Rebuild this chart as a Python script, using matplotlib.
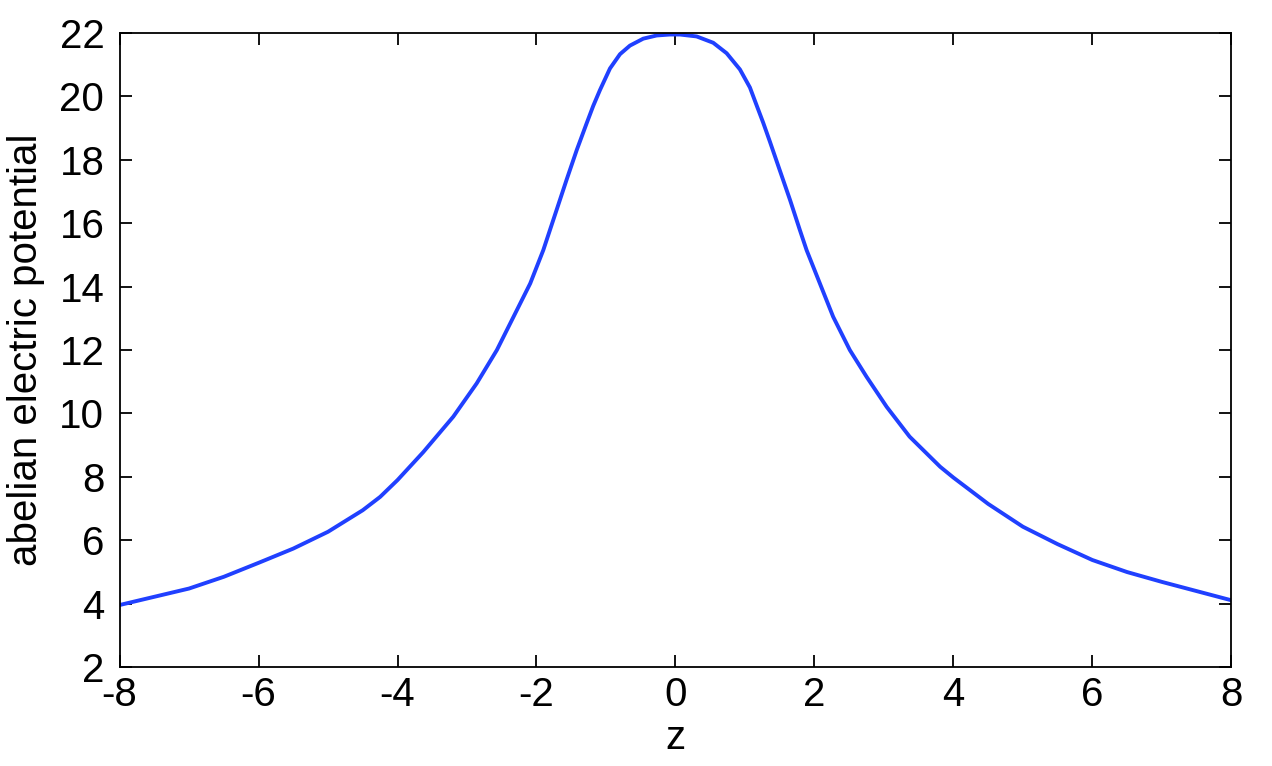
import numpy as np
import matplotlib
matplotlib.use("Agg")
import matplotlib.pyplot as plt

plt.rcParams['font.family'] = ['Liberation Sans', 'DejaVu Sans']
plt.rcParams['axes.unicode_minus'] = False

# values
z = [-8.0, -7.5, -7.0, -6.5, -6.0, -5.5, -5.0, -4.5, -4.25, -4.0, -3.63,
     -3.197, -2.86, -2.57, -2.33, -2.09, -1.902, -1.71, -1.565, -1.42,
     -1.278, -1.183, -1.086, -0.942, -0.798, -0.655, -0.463, -0.27, -0.08,
     0.065, 0.305, 0.544, 0.737, 0.928, 1.072, 1.168, 1.263, 1.36, 1.50,
     1.65, 1.79, 1.888, 2.079, 2.27, 2.51, 2.75, 3.04, 3.37, 3.81, 4.0,
     4.38, 4.5, 5.0, 5.5, 6.0, 6.5, 7.0, 7.5, 8.0]
phi = [3.96, 4.22, 4.48, 4.85, 5.29, 5.74, 6.27, 6.95, 7.37, 7.90, 8.78,
       9.90, 10.95, 12.00, 13.05, 14.10, 15.15, 16.42, 17.38, 18.31,
       19.15, 19.70, 20.20, 20.88, 21.33, 21.60, 21.82, 21.92, 21.95,
       21.95, 21.89, 21.69, 21.36, 20.85, 20.28, 19.72, 19.17, 18.57, 17.68,
       16.73, 15.79, 15.15, 14.10, 13.05, 12.00, 11.16, 10.21, 9.27, 8.32, 7.98,
       7.35, 7.15, 6.43, 5.88, 5.38, 5.00, 4.69, 4.40, 4.11]

xticks = np.arange(-8, 9, 2)
yticks = np.arange(2, 23, 2)

fig = plt.figure(figsize=(12.72, 7.66), dpi=100)
ax = fig.add_axes([0.094, 0.129, 0.874, 0.828])
ax.plot(z, phi, color='#2040ff', lw=2.8, solid_joinstyle='round',
        solid_capstyle='butt')

ax.set_xlim(-8, 8)
ax.set_ylim(2, 22)
ax.set_xticks(xticks)
ax.set_yticks(yticks)
ax.tick_params(direction='in', length=8.5, width=1.3, labelsize=29,
               top=True, right=True)
ax.tick_params(axis='x', pad=6)
ax.tick_params(axis='y', pad=11)
for s in ax.spines.values():
    s.set_linewidth(1.3)

ax.set_xlabel('z', fontsize=29, labelpad=4)
ax.set_ylabel('abelian electric potential', fontsize=29, labelpad=10)

fig.savefig('out.png', dpi=100)
